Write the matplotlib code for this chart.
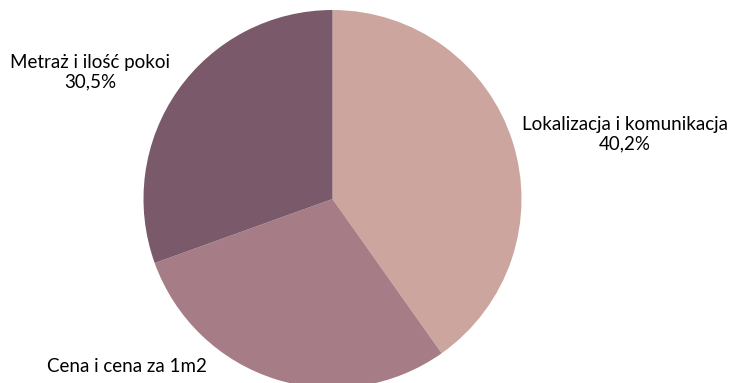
import matplotlib.pyplot as plt

# Data
categories = ["Lokalizacja i komunikacja", "Cena i cena za 1m2", "Metraż i ilość pokoi"]
shares = [40.2, 29.3, 30.5]
colors = ["#CCA59F", "#A67D86", "#7A5A6A"]

# label anchor positions in pixels (x, y from top); Cena's percent line falls below the frame
label_pos = [(625, 134), (127, 367), (90, 72)]
show_pct = [True, False, True]

W, H = 731, 383
fig = plt.figure(figsize=(W / 100, H / 100), dpi=100)
ax = fig.add_axes([0, 0, 1, 1])

ax.pie(shares, colors=colors, startangle=90, counterclock=False,
       center=(332.5, H - 199), radius=189, frame=True,
       wedgeprops=dict(linewidth=0))
ax.set_xlim(0, W)
ax.set_ylim(0, H)
ax.set_aspect("equal")
ax.axis("off")

for name, val, (x, y), pct in zip(categories, shares, label_pos, show_pct):
    txt = f"{name}\n{val:.1f}%".replace(".", ",") if pct else name
    ax.text(x, H - y, txt, ha="center", va="center", fontsize=13.5,
            family="Lato", color="black", linespacing=1.15)

fig.savefig("out.png", dpi=100)
